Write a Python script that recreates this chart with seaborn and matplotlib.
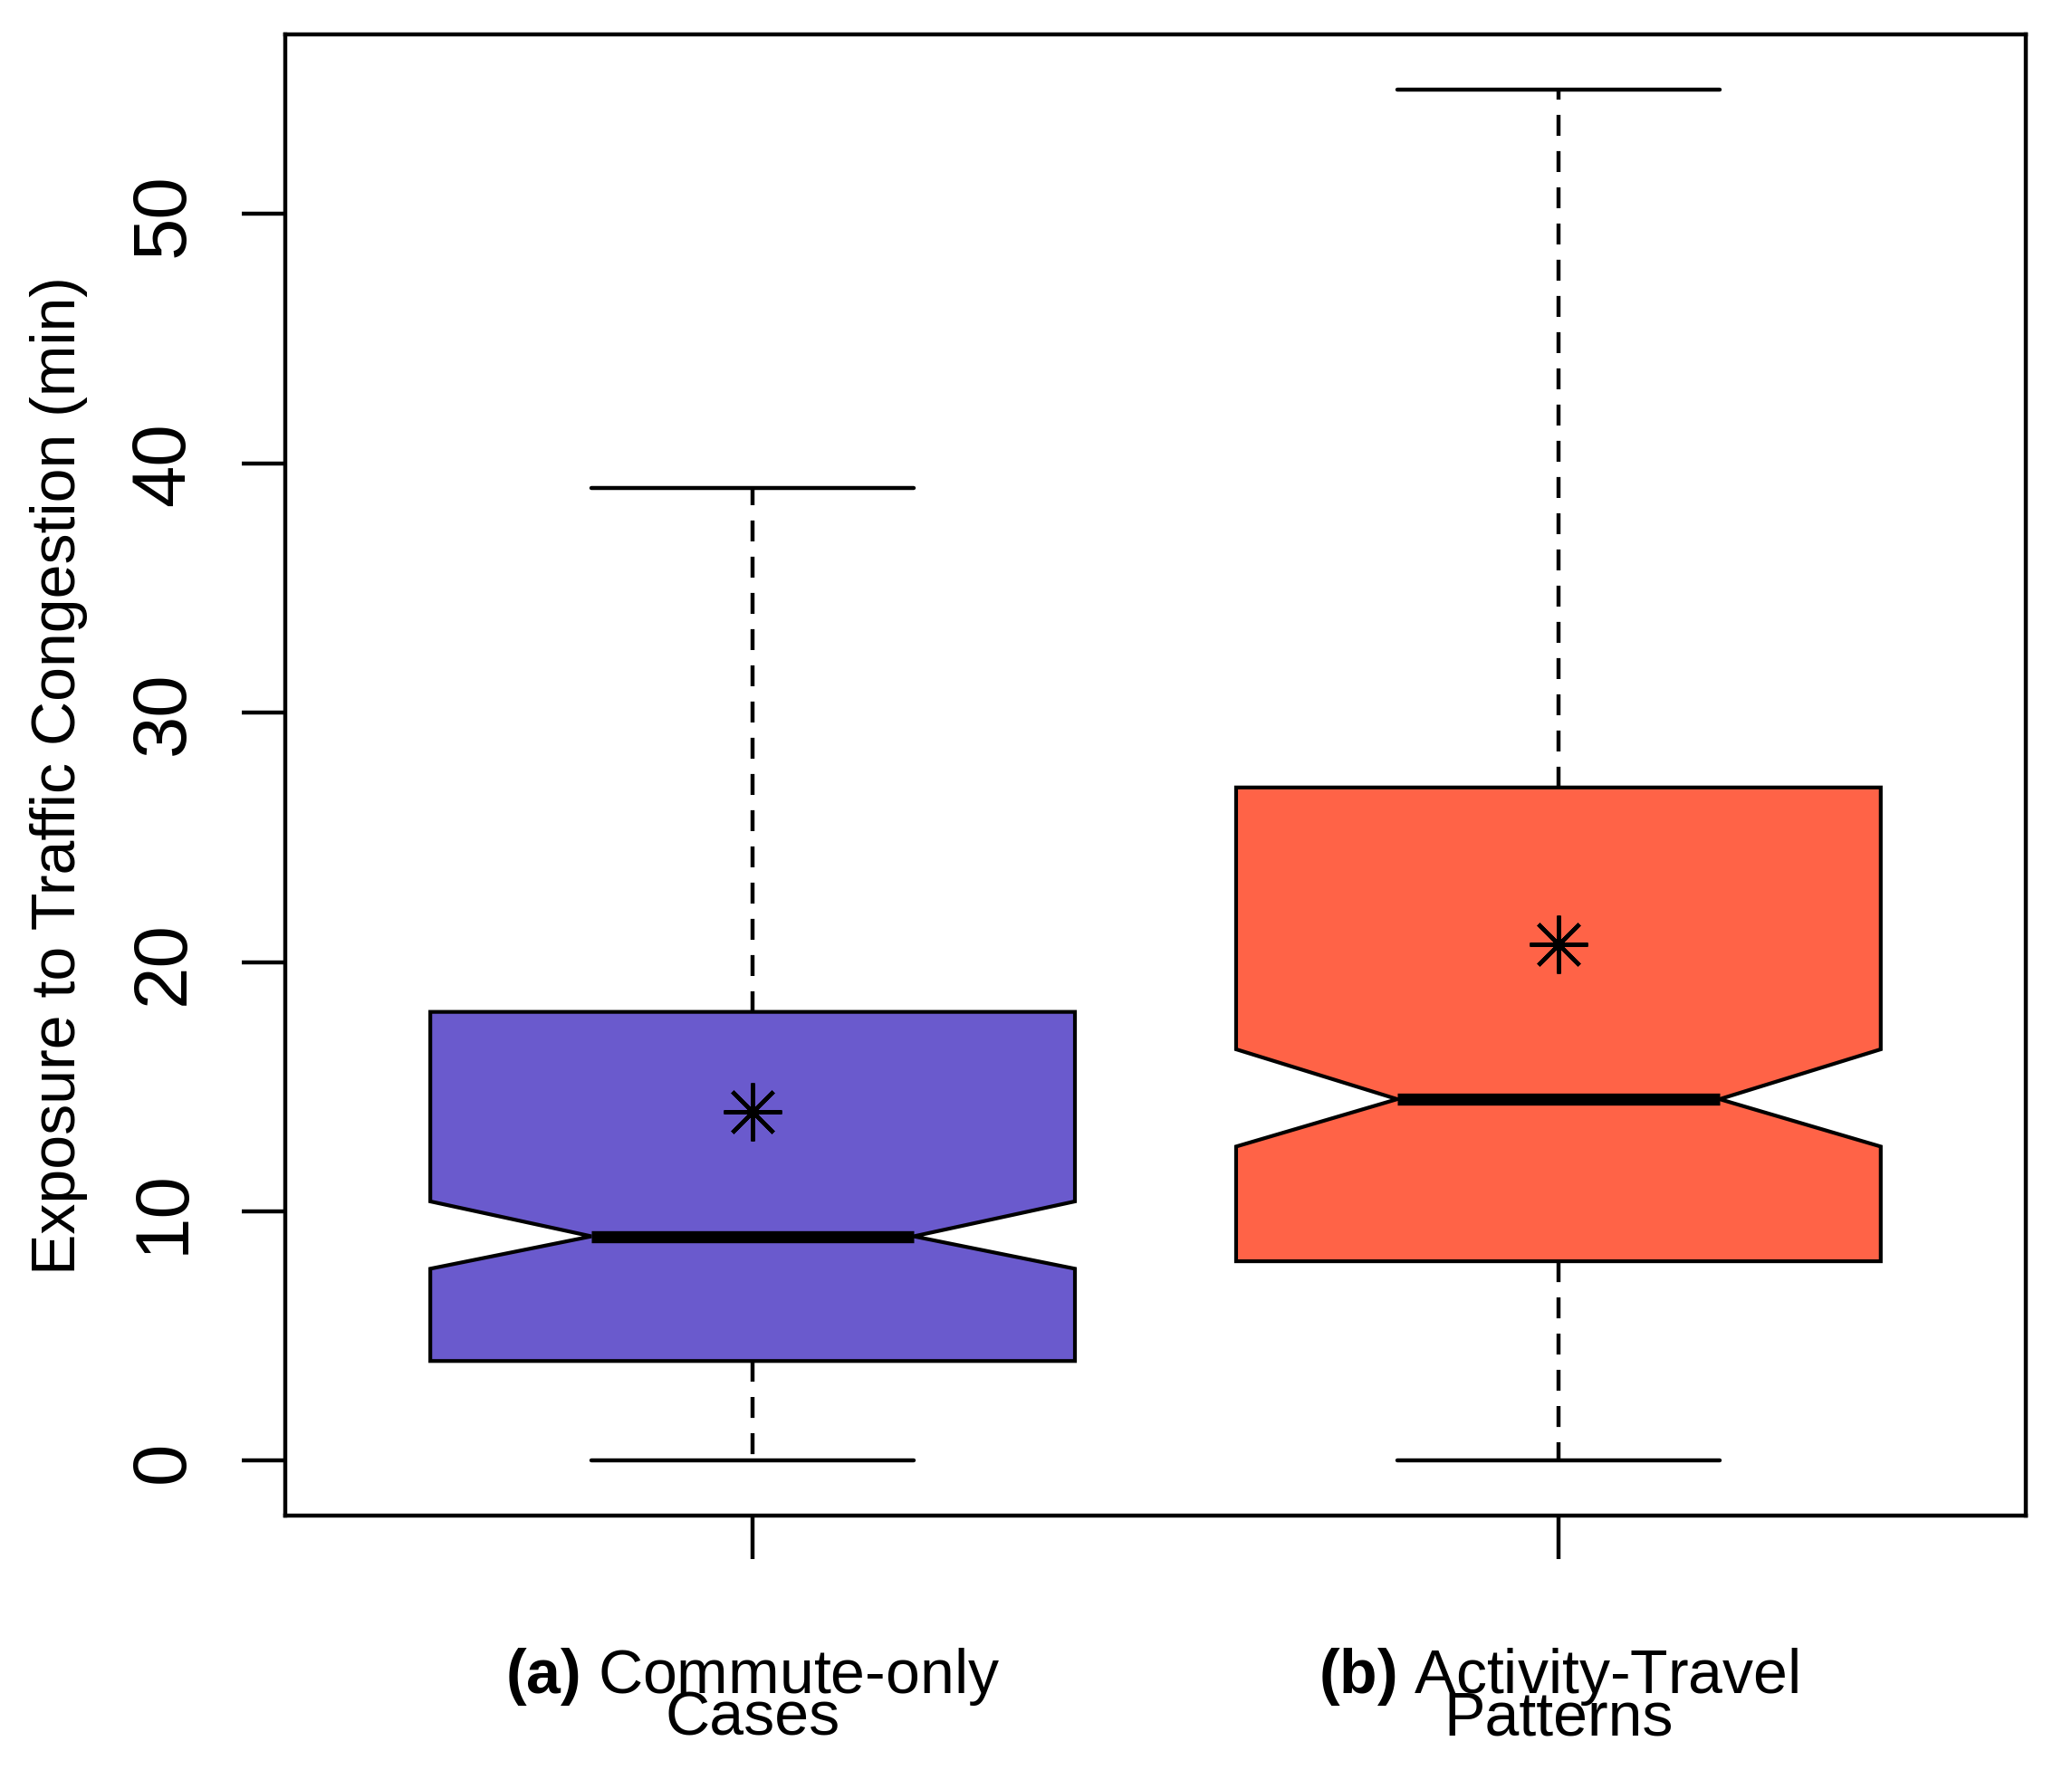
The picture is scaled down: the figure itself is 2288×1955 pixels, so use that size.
import numpy as np
import seaborn as sns
import matplotlib.pyplot as plt

# summary statistics (minutes)
groups = ["(a)", "(b)"]
label_main = ["Commute-only", "Activity-Travel"]
label_sub = ["Cases", "Patterns"]
whislo = [0, 0]
q1 = [4, 8]
med = [9, 14.5]
q3 = [18, 27]
whishi = [39, 55]
cilo = [7.7, 12.6]
cihi = [10.4, 16.5]
means = [14.0, 20.7]
box_colors = ["#6A5ACD", "#FF6347"]
yticks = [0, 10, 20, 30, 40, 50]

sns.set_theme(style="ticks")
plt.rcParams['font.family'] = ['Liberation Sans', 'DejaVu Sans']
plt.rcParams['mathtext.fontset'] = 'custom'
plt.rcParams['mathtext.rm'] = 'Liberation Sans'
plt.rcParams['mathtext.bf'] = 'Liberation Sans:bold'

stats = []
for i in range(len(groups)):
    stats.append(dict(whislo=whislo[i], q1=q1[i], med=med[i], q3=q3[i],
                      whishi=whishi[i], cilo=cilo[i], cihi=cihi[i],
                      mean=means[i], fliers=[]))

fig = plt.figure(figsize=(11.44, 9.78), dpi=200)
ax = fig.add_axes([0.13767, 0.14366, 0.84003, 0.83640])

bp = ax.bxp(stats, positions=[1, 2], widths=0.8, shownotches=True,
            showmeans=True, patch_artist=True,
            boxprops=dict(edgecolor='black', linewidth=1.5),
            whiskerprops=dict(color='black', linewidth=1.6,
                              linestyle=(0, (5.2, 3.8))),
            capprops=dict(color='black', linewidth=1.6),
            medianprops=dict(color='black', linewidth=4.8,
                             solid_capstyle='butt'),
            meanprops=dict(marker=(8, 2, 0), markersize=23,
                           markeredgecolor='black', markeredgewidth=1.6,
                           markerfacecolor='black'))
for patch, c in zip(bp['boxes'], box_colors):
    patch.set_facecolor(c)

ax.set_xlim(0.42, 2.58)
ax.set_ylim(-2.2, 57.2)

ax.set_yticks(yticks, labels=[str(v) for v in yticks], rotation=90,
              va='center', fontsize=30)
xlabels = [r"$\mathbf{" + g + "}$ " + m + "\n" + s
           for g, m, s in zip(groups, label_main, label_sub)]
ax.set_xticks([1, 2], labels=xlabels, fontsize=24.5, linespacing=0.62,
              ha='center')
ax.tick_params(axis='y', direction='out', length=17.3, width=1.6, pad=17,
               color='black', labelcolor='black')
ax.tick_params(axis='x', direction='out', length=17.3, width=1.6, pad=34,
               color='black', labelcolor='black')

ax.set_ylabel('Exposure to Traffic Congestion (min)', fontsize=24.5,
              color='black')
ax.yaxis.set_label_coords(-0.1134, 0.5)

for side in ax.spines.values():
    side.set_linewidth(1.6)
    side.set_color('black')

fig.savefig('out.png', dpi=200)
